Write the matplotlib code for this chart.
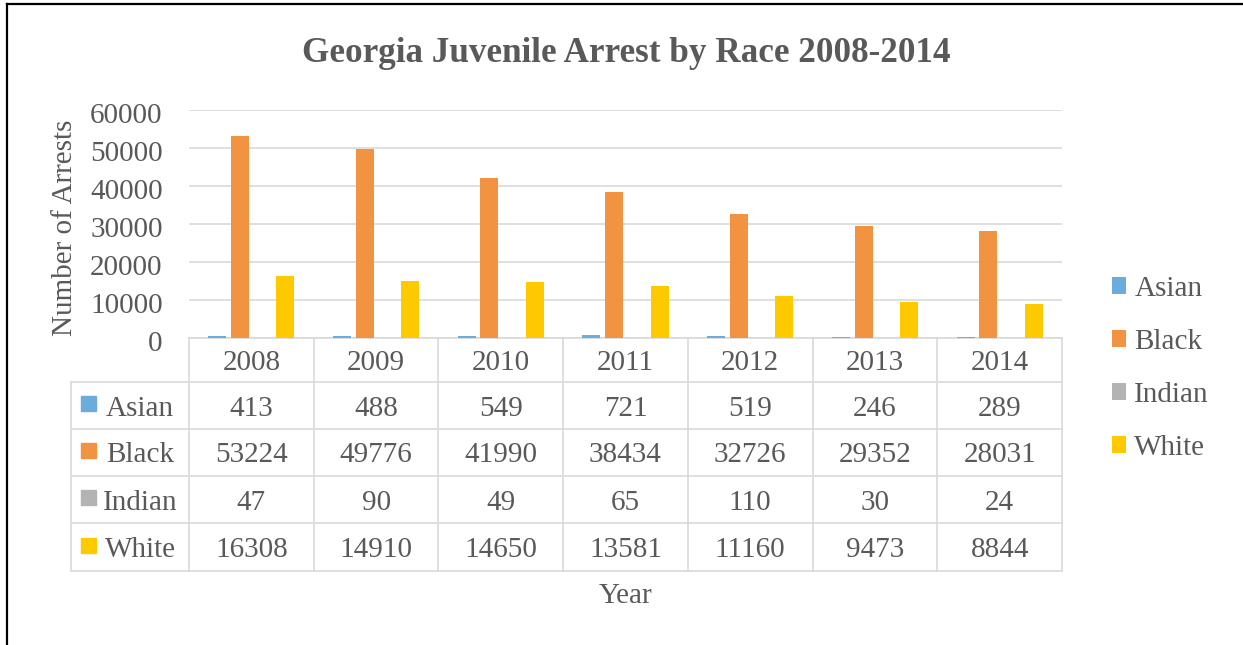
import matplotlib
matplotlib.use("Agg")
import matplotlib.pyplot as plt
from matplotlib.patches import Rectangle, Patch
from matplotlib.transforms import ScaledTranslation
import numpy as np

# ---- data ----
years = ["2008", "2009", "2010", "2011", "2012", "2013", "2014"]
races = ["Asian", "Black", "Indian", "White"]
asian = [413, 488, 549, 721, 519, 246, 289]
black = [53224, 49776, 41990, 38434, 32726, 29352, 28031]
indian = [47, 90, 49, 65, 110, 30, 24]
white = [16308, 14910, 14650, 13581, 11160, 9473, 8844]
series = [asian, black, indian, white]
colors = ["#6AACDE", "#F29341", "#B3B3B3", "#FFC900"]
yticks = [0, 10000, 20000, 30000, 40000, 50000, 60000]

TEXT = "#595959"
GRID = "#D9D9D9"
plt.rcParams["font.family"] = ["Liberation Serif", "DejaVu Serif"]

W, H = 1243, 645
fig = plt.figure(figsize=(W / 100, H / 100), dpi=100)


def fx(px):
    return px / W


def fy(py):
    return 1 - py / H


# ---- bar chart ----
ax_l, ax_r, ax_t, ax_b = 189, 1062, 110, 338
ax = fig.add_axes([fx(ax_l), fy(ax_b), fx(ax_r - ax_l), (ax_b - ax_t) / H])
x = np.arange(len(years))
slot, bw = 0.182, 0.144
for i, (vals, col) in enumerate(zip(series, colors)):
    ax.bar(x + (i - 1.5) * slot, vals, width=bw, color=col, zorder=3)
ax.set_xlim(-0.5, len(years) - 0.5)
ax.set_ylim(0, 60000)
ax.set_yticks(yticks)
ax.set_yticklabels([str(v) for v in yticks], fontsize=21, color=TEXT)
ax.tick_params(axis="y", length=0, pad=19)
shift = ScaledTranslation(0, -3 / 100, fig.dpi_scale_trans)
for lab in ax.get_yticklabels():
    lab.set_transform(lab.get_transform() + shift)
ax.set_xticks([])
ax.grid(axis="y", color=GRID, linewidth=1.2, zorder=0)
for s in ["left", "right", "top"]:
    ax.spines[s].set_visible(False)
ax.spines["bottom"].set_color(GRID)
ax.spines["bottom"].set_linewidth(1.2)

fig.text(fx(65), fy(228), "Number of Arrests", rotation=90, ha="center",
         va="center", fontsize=21, color=TEXT)

# ---- data table under the axis ----
tb_l, tb_b = 71, 571
cat_px = (ax_r - ax_l) / len(years)
left_ext = (ax_l - tb_l) / cat_px
tax = fig.add_axes([fx(tb_l), fy(tb_b), fx(ax_r - tb_l), (tb_b - ax_b) / H])
tax.set_xlim(-0.5 - left_ext, len(years) - 0.5)
tax.set_ylim(tb_b - ax_b, 0)
tax.axis("off")

row_edges = [0, 44, 91, 138, 185, 233]
lw = 1.2
x0 = -0.5 - left_ext
for yv in row_edges[1:]:
    tax.plot([x0, len(years) - 0.5], [yv, yv], color=GRID, lw=lw,
             clip_on=False, solid_capstyle="butt")
tax.plot([x0, x0], [row_edges[1], row_edges[-1]], color=GRID, lw=lw, clip_on=False)
for k in range(len(years) + 1):
    tax.plot([k - 0.5, k - 0.5], [0, row_edges[-1]], color=GRID, lw=lw, clip_on=False)

dy = 3
for j, yr in enumerate(years):
    tax.text(j, (row_edges[0] + row_edges[1]) / 2 + dy, yr, ha="center", va="center",
             fontsize=21, color=TEXT)

key = 15
for r, (name, vals, col) in enumerate(zip(races, series, colors)):
    yc = (row_edges[r + 1] + row_edges[r + 2]) / 2
    tax.add_patch(Rectangle((x0 + 10 / cat_px, yc - key / 2 - 2), key / cat_px, key,
                            color=col, clip_on=False))
    tax.text(x0 + 69 / cat_px, yc + dy, name, ha="center", va="center",
             fontsize=21, color=TEXT)
    for j, v in enumerate(vals):
        tax.text(j, yc + dy, str(v), ha="center", va="center", fontsize=21, color=TEXT)

fig.text(fx((ax_l + ax_r) / 2), fy(596), "Year", ha="center", va="center",
         fontsize=21, color=TEXT)

# ---- title ----
fig.text(fx(626), fy(54), "Georgia Juvenile Arrest by Race 2008-2014", ha="center",
         va="center", fontsize=25.3, fontweight="bold", color=TEXT)

# ---- legend ----
handles = [Patch(facecolor=c, edgecolor="none", label=n) for n, c in zip(races, colors)]
fig.legend(handles=handles, loc="upper left", bbox_to_anchor=(fx(1097), fy(261)),
           frameon=False, fontsize=21, labelcolor=TEXT, handlelength=0.5,
           handleheight=0.5, handletextpad=0.28, labelspacing=0.93, borderpad=0)

# ---- outer frame lines ----
fig.add_artist(plt.Line2D([fx(7), fx(7)], [fy(4), 0], color="black", lw=1.6))
fig.add_artist(plt.Line2D([fx(7), 1], [fy(4), fy(4)], color="black", lw=1.6))

fig.savefig("out.png", dpi=100)
